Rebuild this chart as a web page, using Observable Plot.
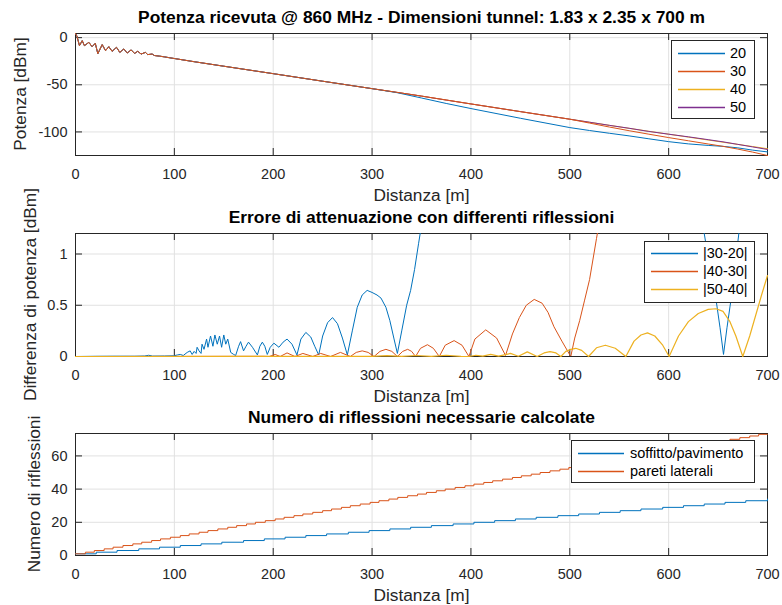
<!DOCTYPE html>
<html>
<head>
<meta charset="utf-8">
<script src="https://cdn.jsdelivr.net/npm/d3@7"></script>
<script src="https://cdn.jsdelivr.net/npm/@observablehq/plot@0.6"></script>
<style>
  body { margin: 0; background: #fff; }
  #wrap { position: relative; width: 782px; height: 605px; overflow: hidden; }
  #wrap svg { position: absolute; left: 0; }
</style>
</head>
<body>
<div id="wrap"></div>
<script>
// ---------------- data ----------------
const xTicks = [0, 100, 200, 300, 400, 500, 600, 700];
const xLabel = "Distanza [m]";

// Panel 1: received power
const title1 = "Potenza ricevuta @ 860 MHz - Dimensioni tunnel: 1.83 x 2.35 x 700 m";
const yLabel1 = "Potenza [dBm]";
const yTicks1 = [-100, -50, 0];
const series1 = ["20", "30", "40", "50"];
const dist1 = [0, 1.5, 4, 6.8, 9, 13.5, 16.8, 20, 22.6, 27, 30.4, 33.7, 37, 41.5, 44.8, 48.9, 52.3, 56.3, 59.7, 63,
  66.4, 70.8, 73, 77.5, 80, 85, 90, 95, 101, 120, 150, 200, 250, 300,
  325, 350, 375, 400, 450, 500, 520, 540, 560, 580, 600, 620, 640, 655, 670, 685, 700];
const pow20 = [4.4, 1.5, -8.5, -3.2, -8.5, -5, -9.6, -6, -17, -7.4, -13.8, -9.6, -14.5, -10.3, -15.6, -12, -16.3, -13, -16.7, -14.5,
  -17.4, -15.6, -18, -17.4, -19, -19.6, -20.4, -21.3, -22.3, -25.5, -30.3, -38.2, -46.2, -54.1,
  -58.3, -64, -69.8, -75.2, -85.5, -95.4, -98.5, -101.4, -104.2, -107.3, -110.3, -112.7, -114.3, -115.3, -116.9, -119.3, -121.2];
const pow30 = [4.4, 1.5, -8.5, -3.2, -8.5, -5, -9.6, -6, -17, -7.4, -13.8, -9.6, -14.5, -10.3, -15.6, -12, -16.3, -13, -16.7, -14.5,
  -17.4, -15.6, -18, -17.4, -19, -19.6, -20.4, -21.3, -22.3, -25.5, -30.3, -38.2, -46.2, -54.1,
  -58, -62, -66.1, -70.3, -78.5, -86.5, -90.6, -94.8, -98.7, -102.4, -106, -109.4, -112.8, -115.3, -118.2, -121.4, -125];
const pow40 = [4.4, 1.5, -8.5, -3.2, -8.5, -5, -9.6, -6, -17, -7.4, -13.8, -9.6, -14.5, -10.3, -15.6, -12, -16.3, -13, -16.7, -14.5,
  -17.4, -15.6, -18, -17.4, -19, -19.6, -20.4, -21.3, -22.3, -25.5, -30.3, -38.2, -46.2, -54.1,
  -58, -62, -66.2, -70.3, -78.4, -86.5, -89.7, -93, -96.2, -99.3, -102.4, -105.5, -108.6, -110.9, -113.2, -115.5, -117.8];
const pow50 = [4.4, 1.5, -8.5, -3.2, -8.5, -5, -9.6, -6, -17, -7.4, -13.8, -9.6, -14.5, -10.3, -15.6, -12, -16.3, -13, -16.7, -14.5,
  -17.4, -15.6, -18, -17.4, -19, -19.6, -20.4, -21.3, -22.3, -25.5, -30.3, -38.2, -46.2, -54.1,
  -58, -62, -66.2, -70.3, -78.4, -86.5, -89.7, -93, -96.1, -99.5, -102.4, -105.2, -108.2, -110.5, -113.2, -115.9, -118.6];

// Panel 2: attenuation error
const title2 = "Errore di attenuazione con differenti riflessioni";
const yLabel2 = "Differenza di potenza [dBm]";
const yTicks2 = [0, 0.5, 1];
const series2 = ["|30-20|", "|40-30|", "|50-40|"];
const d3020 = [0, 20, 40, 60, 70, 74, 78, 90, 99.5, 103,
  106, 109, 113, 116, 118, 120, 122, 123, 125, 127,
  128, 130, 132.6, 134, 136.6, 139, 141, 143.4, 145.7, 147.8,
  150, 152, 154, 157, 160, 162, 165, 167, 170, 172.5,
  175, 179, 184, 186.5, 189, 191.5, 194, 197, 200.7, 205.8,
  210, 214, 219, 224, 228, 233, 238, 242, 246, 250,
  255, 260, 265, 270, 275, 280, 285, 290, 295, 300,
  305, 309, 314, 318, 322, 325.6, 330, 335, 339, 343,
  347, 352, 360, 400, 450, 500, 550, 600, 630, 636,
  642, 648, 652, 655.5, 659, 663, 667, 671, 680, 700];
const v3020 = [0, 0.002, 0.003, 0.003, 0.005, 0.012, 0.004, 0.005, 0.007, 0.015,
  0.02, 0.01, 0.04, 0.055, 0.02, 0.05, 0.03, 0.09, 0.055, 0.03,
  0.12, 0.07, 0.17, 0.09, 0.2, 0.1, 0.21, 0.12, 0.2, 0.09,
  0.21, 0.12, 0.17, 0.04, 0.02, 0.01, 0.1, 0.145, 0.055, 0.1,
  0.14, 0.09, 0.015, 0.1, 0.14, 0.1, 0.02, 0.09, 0.13, 0.09,
  0.14, 0.17, 0.12, 0.015, 0.17, 0.235, 0.19, 0.1, 0.015, 0.2,
  0.33, 0.38, 0.32, 0.18, 0.015, 0.25, 0.48, 0.6, 0.645, 0.625,
  0.6, 0.57, 0.48, 0.35, 0.18, 0.03, 0.25, 0.5, 0.645, 0.85,
  1.1, 1.4, 1.9, 4.6, 7, 8.9, 7.5, 4.3, 1.6, 1.2,
  0.85, 0.55, 0.28, 0.02, 0.28, 0.55, 0.87, 1.2, 1.8, 2.2];
const d4030 = [0, 190, 196, 202, 207, 214, 222, 230, 240, 248,
  258, 268, 278, 284, 290, 296, 302, 308, 314, 320,
  325.6, 331, 336, 340, 344, 349, 356, 362, 368, 374,
  383, 391, 398, 404, 415, 426, 435, 442, 449, 456,
  464, 472, 478, 484, 492, 501, 505, 510, 515, 520,
  527, 535, 560, 600, 650, 700];
const v4030 = [0, 0.002, 0, 0.02, 0, 0.035, 0, 0.03, 0, 0.03,
  0, 0.04, 0, 0.04, 0.055, 0.04, 0, 0.05, 0.07, 0.05,
  0, 0.05, 0.07, 0.05, 0, 0.08, 0.115, 0.08, 0, 0.11,
  0.155, 0.11, 0, 0.17, 0.26, 0.18, 0.01, 0.22, 0.38, 0.5,
  0.557, 0.52, 0.43, 0.29, 0.15, 0, 0.18, 0.35, 0.55, 0.75,
  1.15, 1.6, 3.7, 3.6, 5, 6];
const d5040 = [0, 300, 315, 330, 345, 360, 375, 390, 398, 405,
  412, 420, 428, 440, 448, 457, 467, 474, 480, 486,
  491, 496, 501, 506, 512, 519, 527, 536, 546, 556.7,
  565, 572, 578.6, 586, 594, 600.5, 610, 620, 630, 640,
  648, 655, 662, 668, 675, 682, 688, 694, 700];
const v5040 = [0, 0.002, 0.008, 0.002, 0.01, 0.002, 0.012, 0.002, 0, 0.012,
  0.003, 0.02, 0.004, 0.03, 0.003, 0.045, 0, 0.035, 0.047, 0.035,
  0, 0.05, 0.07, 0.08, 0.06, 0, 0.085, 0.11, 0.08, 0,
  0.15, 0.21, 0.23, 0.2, 0.11, 0, 0.2, 0.34, 0.42, 0.46,
  0.466, 0.44, 0.34, 0.2, 0, 0.2, 0.4, 0.6, 0.79];

// Panel 3: number of reflections
const title3 = "Numero di riflessioni necessarie calcolate";
const yLabel3 = "Numero di riflessioni";
const yTicks3 = [0, 20, 40, 60];
const series3 = ["soffitto/pavimento", "pareti laterali"];
const dCeil = [0, 21, 42, 64, 85, 106, 127, 148, 170, 191, 212, 233, 254, 276, 297, 318, 339, 360, 382, 403,
  424, 445, 466, 488, 509, 530, 551, 572, 594, 615, 636, 657, 678, 700];
const nCeil = [1, 2, 3, 4, 5, 6, 7, 8, 9, 10, 11, 12, 13, 14, 15, 16, 17, 18, 19, 20,
  21, 22, 23, 24, 25, 26, 27, 28, 29, 30, 31, 32, 33, 34];
const dWall = [0, 10, 19, 29, 38, 48, 58, 67, 77, 86, 96, 106, 115, 125, 134, 144, 154, 163, 173, 182,
  192, 202, 211, 221, 230, 240, 250, 259, 269, 278, 288, 298, 307, 317, 326, 336, 346, 355, 365, 374,
  384, 394, 403, 413, 422, 432, 442, 451, 461, 470, 480, 490, 499, 509, 518, 528, 538, 547, 557, 566,
  576, 586, 595, 605, 614, 624, 634, 643, 653, 662, 672, 682, 691, 700];
const nWall = [1, 2, 3, 4, 5, 6, 7, 8, 9, 10, 11, 12, 13, 14, 15, 16, 17, 18, 19, 20,
  21, 22, 23, 24, 25, 26, 27, 28, 29, 30, 31, 32, 33, 34, 35, 36, 37, 38, 39, 40,
  41, 42, 43, 44, 45, 46, 47, 48, 49, 50, 51, 52, 53, 54, 55, 56, 57, 58, 59, 60,
  61, 62, 63, 64, 65, 66, 67, 68, 69, 70, 71, 72, 73, 73];

// ---------------- style ----------------
const FONT = '"Liberation Sans", Arial, Helvetica, sans-serif';
const COLORS = ["#0072BD", "#D95319", "#EDB120", "#7E2F8E"];
const AXIS = "#262626";
const GRID = "#e1e1e1";
const W = 782, ML = 75, MR = 15;
const TICK_FS = 14.5, LABEL_FS = 17.3, TITLE_FS = 17.4;

const rows = (xs, ys) => xs.map((x, i) => ({x, y: ys[i]}));

function makePanel(cfg) {
  const innerW = W - ML - MR;
  const innerH = cfg.height - cfg.marginTop - cfg.marginBottom;
  const tickLen = 7;
  const fmt = d => String(d);
  const svg = Plot.plot({
    width: W, height: cfg.height,
    marginLeft: ML, marginRight: MR, marginTop: cfg.marginTop, marginBottom: cfg.marginBottom,
    style: {background: "transparent", overflow: "visible", fontFamily: FONT, color: AXIS},
    x: {domain: [0, 700]},
    y: {domain: cfg.yDomain},
    marks: [
      Plot.gridX(xTicks, {stroke: GRID, strokeOpacity: 1}),
      Plot.gridY(cfg.yTicks, {stroke: GRID, strokeOpacity: 1}),
      Plot.frame({stroke: AXIS}),
      Plot.ruleX(xTicks, {insetTop: innerH - tickLen, stroke: AXIS}),
      Plot.ruleX(xTicks, {insetBottom: innerH - tickLen, stroke: AXIS}),
      Plot.ruleY(cfg.yTicks, {insetRight: innerW - tickLen, stroke: AXIS}),
      Plot.ruleY(cfg.yTicks, {insetLeft: innerW - tickLen, stroke: AXIS}),
      ...cfg.lines,
      Plot.axisX(xTicks, {tickSize: 0, tickPadding: 13, label: null, tickFormat: fmt, fontSize: TICK_FS, fill: AXIS}),
      Plot.axisY(cfg.yTicks, {tickSize: 0, tickPadding: 8, label: null, tickFormat: fmt, fontSize: TICK_FS, fill: AXIS}),
      Plot.text([cfg.title], {text: d => d, frameAnchor: "top", dy: -11, lineAnchor: "bottom", fontWeight: "bold", fontSize: TITLE_FS, fill: "#000"}),
      Plot.text([xLabel], {text: d => d, frameAnchor: "bottom", dy: 45, lineAnchor: "bottom", fontSize: LABEL_FS, fill: AXIS})
    ]
  });
  svg.style.top = cfg.top + "px";
  // rotated y-axis label
  const cy = cfg.marginTop + innerH / 2;
  d3.select(svg).append("text")
    .attr("transform", `translate(${cfg.yLabelX},${cy}) rotate(-90)`)
    .attr("text-anchor", "middle").attr("dy", "0.35em")
    .attr("font-family", FONT).attr("font-size", LABEL_FS).attr("fill", AXIS)
    .text(cfg.yLabel);
  if (cfg.legend) addLegend(svg, cfg.legend, cfg.legendNames);
  document.getElementById("wrap").appendChild(svg);
  return svg;
}

function addLegend(svg, box, names) {
  const g = d3.select(svg).append("g").attr("font-family", FONT).attr("font-size", TICK_FS)
    .attr("text-anchor", "start");
  g.append("rect").attr("x", box.x + 0.5).attr("y", box.y + 0.5).attr("width", box.w).attr("height", box.h)
    .attr("fill", "#fff").attr("stroke", AXIS);
  names.forEach((n, i) => {
    const y = box.y0 + i * 18;
    g.append("path").attr("d", `M${box.lx1},${y + 0.5}H${box.lx2}`)
      .attr("fill", "none")
      .style("stroke", COLORS[i]).style("stroke-width", "1.5px");
    g.append("text").attr("x", box.tx).attr("y", y).attr("dy", "0.36em")
      .attr("text-anchor", "start").attr("fill", "#000").text(n);
  });
}

// Panel 1 (drawing order chosen so overlapping curves read like the reference)
const p1Series = [pow20, pow30, pow40, pow50];
const p1Order = [2, 3, 0, 1];
makePanel({
  top: 0, height: 200, marginTop: 33, marginBottom: 45,
  yDomain: [-125, 4.4], yTicks: yTicks1,
  title: title1, yLabel: yLabel1, yLabelX: 20,
  lines: p1Order.map(i => Plot.line(rows(dist1, p1Series[i]), {x: "x", y: "y", stroke: COLORS[i], strokeWidth: 1})),
  legend: {x: 671, y: 40, w: 83, h: 78, y0: 53, lx1: 678, lx2: 725, tx: 730},
  legendNames: series1
});

// Panel 2
makePanel({
  top: 200, height: 200, marginTop: 33, marginBottom: 44,
  yDomain: [0, 1.2], yTicks: yTicks2,
  title: title2, yLabel: yLabel2, yLabelX: 30,
  lines: [
    Plot.line(rows(d3020, v3020), {x: "x", y: "y", stroke: COLORS[0], strokeWidth: 1, clip: true}),
    Plot.line(rows(d4030, v4030), {x: "x", y: "y", stroke: COLORS[1], strokeWidth: 1, clip: true}),
    Plot.line(rows(d5040, v5040), {x: "x", y: "y", stroke: COLORS[2], strokeWidth: 1.2})
  ],
  legend: {x: 644, y: 41, w: 110, h: 61, y0: 53, lx1: 651, lx2: 698, tx: 703},
  legendNames: series2
});

// Panel 3
makePanel({
  top: 400, height: 205, marginTop: 33, marginBottom: 50,
  yDomain: [0, 73.5], yTicks: yTicks3,
  title: title3, yLabel: yLabel3, yLabelX: 33.5,
  lines: [
    Plot.line(rows(dCeil, nCeil), {x: "x", y: "y", stroke: COLORS[0], strokeWidth: 1, curve: "step-after"}),
    Plot.line(rows(dWall, nWall), {x: "x", y: "y", stroke: COLORS[1], strokeWidth: 1, curve: "step-after"})
  ],
  legend: {x: 571, y: 40, w: 183, h: 42, y0: 53, lx1: 578, lx2: 624, tx: 630},
  legendNames: series3
});
</script>
</body>
</html>
